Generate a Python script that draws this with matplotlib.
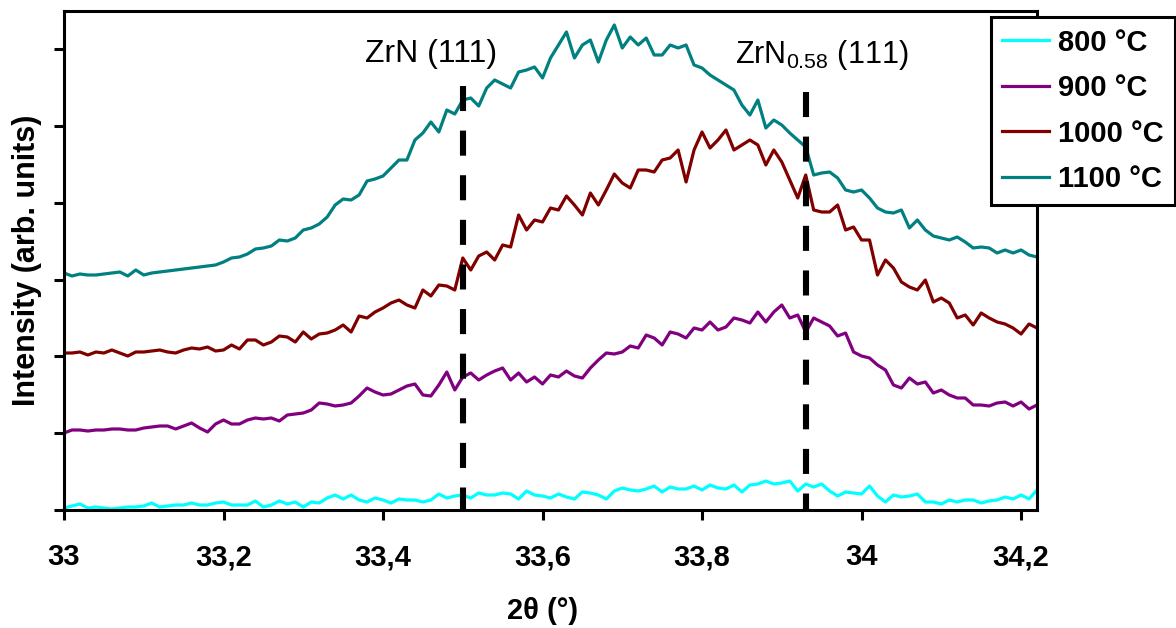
import numpy as np
import matplotlib
matplotlib.use("Agg")
import matplotlib.pyplot as plt

plt.rcParams['font.family'] = ['Liberation Sans', 'DejaVu Sans']
plt.rcParams['mathtext.fontset'] = 'custom'
plt.rcParams['mathtext.rm'] = 'Liberation Sans'
plt.rcParams['mathtext.it'] = 'Liberation Sans:italic'
plt.rcParams['mathtext.bf'] = 'Liberation Sans:bold'

# 2theta sampling grid (degrees), step 0.01 from 33.00 to 34.22
two_theta = np.round(33.0 + 0.01 * np.arange(123), 2)

# Intensities (arb. units)
i_800 = [2, 4, 6, 2, 3, 2, 1, 2, 3, 3,
         4, 7, 3, 4, 5, 5, 7, 5, 5, 7,
         8, 5, 5, 5, 9, 3, 5, 9, 6, 8,
         3, 8, 7, 12, 15, 11, 15, 10, 8, 12,
         10, 7, 11, 10, 10, 8, 10, 16, 12, 14,
         15, 12, 17, 15, 15, 17, 16, 11, 19, 15,
         14, 12, 16, 13, 11, 18, 17, 15, 11, 19,
         22, 20, 19, 21, 24, 18, 23, 21, 21, 24,
         20, 25, 22, 21, 25, 18, 25, 26, 29, 26,
         27, 29, 19, 26, 23, 26, 19, 14, 18, 17,
         16, 24, 14, 8, 15, 13, 14, 16, 8, 8,
         6, 10, 8, 10, 10, 7, 9, 10, 13, 11,
         15, 11, 20]

i_900 = [77, 80, 80, 79, 80, 80, 81, 81, 80, 80,
         82, 83, 84, 84, 81, 84, 87, 82, 78, 86,
         90, 86, 86, 90, 92, 91, 92, 89, 95, 96,
         97, 100, 107, 106, 104, 105, 107, 114, 122, 118,
         115, 116, 120, 124, 126, 115, 114, 125, 138, 120,
         133, 137, 130, 135, 139, 142, 130, 137, 128, 133,
         126, 135, 133, 139, 134, 132, 142, 150, 157, 156,
         158, 164, 162, 175, 172, 165, 178, 176, 172, 182,
         180, 188, 180, 183, 192, 190, 187, 198, 188, 198,
         205, 192, 195, 178, 192, 188, 184, 174, 177, 158,
         154, 152, 145, 140, 125, 122, 132, 126, 128, 117,
         120, 115, 112, 112, 105, 105, 104, 107, 108, 104,
         108, 101, 105]

i_1000 = [157, 157, 158, 155, 158, 157, 160, 157, 154, 158,
          158, 159, 160, 158, 157, 160, 162, 161, 163, 159,
          160, 165, 161, 170, 170, 165, 168, 174, 173, 168,
          178, 171, 176, 177, 180, 185, 178, 194, 192, 198,
          202, 207, 210, 205, 202, 220, 214, 225, 224, 220,
          252, 240, 254, 258, 250, 265, 263, 295, 280, 290,
          288, 302, 300, 314, 305, 295, 317, 305, 320, 336,
          327, 322, 340, 340, 338, 350, 352, 360, 328, 360,
          378, 362, 370, 380, 360, 365, 370, 365, 345, 360,
          348, 330, 312, 335, 300, 298, 298, 305, 280, 283,
          270, 270, 235, 250, 242, 228, 223, 220, 230, 208,
          212, 207, 192, 195, 185, 197, 192, 188, 186, 182,
          176, 186, 182]

i_1100 = [237, 234, 236, 235, 235, 236, 237, 238, 234, 240,
          235, 237, 238, 239, 240, 241, 242, 243, 244, 245,
          248, 252, 253, 256, 261, 262, 264, 270, 269, 272,
          280, 282, 286, 293, 305, 311, 310, 315, 329, 331,
          334, 342, 350, 350, 370, 377, 388, 378, 400, 396,
          410, 412, 404, 422, 430, 426, 422, 438, 440, 443,
          432, 452, 465, 478, 452, 465, 470, 448, 470, 485,
          462, 473, 465, 472, 455, 455, 465, 462, 465, 445,
          442, 435, 430, 425, 420, 405, 395, 410, 382, 390,
          385, 377, 370, 363, 335, 337, 338, 332, 320, 318,
          320, 312, 302, 298, 297, 300, 282, 290, 280, 274,
          272, 270, 273, 268, 262, 263, 262, 257, 260, 257,
          260, 255, 253]

series_labels = ["800 °C", "900 °C", "1000 °C", "1100 °C"]
series_colors = ["#00FFFF", "#800080", "#800000", "#008080"]
series_values = [i_800, i_900, i_1000, i_1100]

xtick_values = [33.0, 33.2, 33.4, 33.6, 33.8, 34.0, 34.2]
xtick_labels = ["33", "33,2", "33,4", "33,6", "33,8", "34", "34,2"]

ref_positions = [33.50, 33.93]
ref_heights = [424, 418]
ref_labels = ["ZrN (111)", r"ZrN$_{0.58}$ (111)"]
ref_label_x = [33.46, 33.95]
ref_label_y = [456, 455]

fig = plt.figure(figsize=(11.76, 6.28), dpi=100)
ax = fig.add_axes([64 / 1176, 118 / 628, 973 / 1176, 499 / 628])

for vals, lab, col in zip(series_values, series_labels, series_colors):
    ax.plot(two_theta, vals, color=col, lw=2.3, label=lab)

for xp, hp in zip(ref_positions, ref_heights):
    ax.plot([xp, xp], [hp, 0], color="black", lw=4.4,
            linestyle=(0, (4.1, 3.2)), solid_capstyle='butt',
            dash_capstyle='butt', zorder=5)

for lab, xl, yl, fs in zip(ref_labels, ref_label_x, ref_label_y, [23, 22]):
    ax.text(xl, yl, lab, fontsize=fs, ha="center", va="center", zorder=6)

ax.set_xlim(33.0, 34.22)
ax.set_ylim(0, 499)
ax.set_xticks(xtick_values)
ax.set_xticklabels(xtick_labels, fontsize=21, fontweight="bold")
ax.set_yticks(np.arange(0, 470, 76.8))
ax.set_yticklabels([])
ax.tick_params(axis="x", direction="out", length=7, width=2.2, pad=17)
ax.tick_params(axis="y", direction="out", length=7, width=2.2)
for sp in ax.spines.values():
    sp.set_linewidth(2.2)

ax.set_xlabel("2θ (°)", fontsize=21, fontweight="bold")
ax.xaxis.set_label_coords(0.492, -0.175)
ax.set_ylabel("Intensity (arb. units)", fontsize=22, fontweight="bold")
ax.yaxis.set_label_coords(-0.023, 0.5)

leg = ax.legend(loc="upper right", bbox_to_anchor=(1175 / 1176, 1 - 17 / 628),
                bbox_transform=fig.transFigure, frameon=True, fancybox=False,
                edgecolor="black", framealpha=1, borderaxespad=0,
                prop={"weight": "bold", "size": 21}, handlelength=1.6,
                handletextpad=0.3, labelspacing=0.6, borderpad=0.4)
leg.get_frame().set_linewidth(2.2)
leg.set_zorder(10)

fig.savefig("out.png", dpi=100)
